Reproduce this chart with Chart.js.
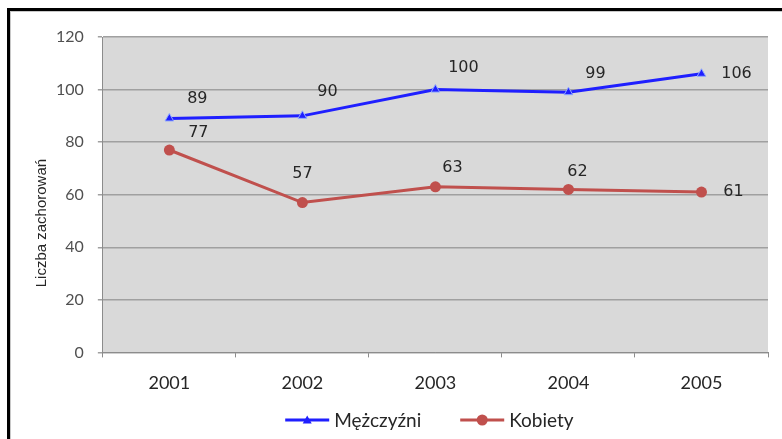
<!DOCTYPE html>
<html>
<head>
<meta charset="utf-8">
<script src="https://cdn.jsdelivr.net/npm/chart.js@4"></script>
<style>
  html, body { margin: 0; padding: 0; background: #fff; overflow: hidden; }
  #wrap { position: relative; width: 782px; height: 439px; }
  #frame { position: absolute; left: 7px; top: 8px; width: 800px; height: 450px;
           border-left: 3px solid #000; border-top: 3px solid #000; }
  #frame::after { content: ""; position: absolute; left: 0; top: 0; width: 100%; height: 100%;
           border-left: 1px solid #c8c8c8; border-top: 1px solid #c8c8c8; }
  canvas { position: absolute; left: 0; top: 0; }
</style>
</head>
<body>
<div id="wrap">
  <div id="frame"></div>
  <canvas id="wykres" width="782" height="439"></canvas>
</div>
<script>
// dane z wykresu
const lata = ["2001", "2002", "2003", "2004", "2005"];
const mezczyzni = [89, 90, 100, 99, 106];
const kobiety = [77, 57, 63, 62, 61];
const tytulOsiY = "Liczba zachorowań";

const NIEBIESKI = '#1f1fff';
const CZERWONY = '#c0504d';
const CZCIONKA = 'Lato, "Open Sans", sans-serif';

// przesunięcia etykiet wartości względem punktu (px)
const przesuniecia = [
  [[28, -20], [25, -24], [28, -22], [27, -18], [35, 0]],
  [[29, -17], [0, -29], [17, -19], [9, -18], [32, 0]]
];

// linia + znacznik (legenda)
function rysujIkonke(g, x, y, kolor, ksztalt) {
  g.strokeStyle = kolor; g.lineWidth = 3;
  g.beginPath(); g.moveTo(x, y); g.lineTo(x + 44, y); g.stroke();
  g.fillStyle = kolor;
  g.beginPath();
  if (ksztalt === 'triangle') {
    g.moveTo(x + 22, y - 4.5); g.lineTo(x + 26.5, y + 3.5); g.lineTo(x + 17.5, y + 3.5); g.closePath();
  } else {
    g.arc(x + 22, y, 5.5, 0, Math.PI * 2);
  }
  g.fill();
}

const dodatki = {
  id: 'dodatki',
  beforeDraw(chart) {
    const a = chart.chartArea, ctx = chart.ctx;
    ctx.save();
    ctx.fillStyle = '#d9d9d9';
    ctx.fillRect(a.left, a.top, a.right - a.left, a.bottom - a.top);
    ctx.restore();
  },
  afterDatasetsDraw(chart) {
    const ctx = chart.ctx;
    const a = chart.chartArea;
    ctx.save();
    ctx.font = '16px "DejaVu Sans", sans-serif';
    ctx.fillStyle = '#262626';
    ctx.textAlign = 'center';
    ctx.textBaseline = 'middle';
    chart.data.datasets.forEach((ds, i) => {
      chart.getDatasetMeta(i).data.forEach((p, j) => {
        const o = przesuniecia[i][j];
        ctx.fillText(String(ds.data[j]), p.x + o[0], p.y + o[1]);
      });
    });
    ctx.restore();

    // tytuł osi Y
    ctx.save();
    ctx.translate(42, a.top + (a.bottom - a.top) * 0.59);
    ctx.rotate(-Math.PI / 2);
    ctx.font = '15px "Liberation Sans Narrow", "Liberation Sans", sans-serif';
    ctx.fillStyle = '#262626';
    ctx.textAlign = 'center';
    ctx.textBaseline = 'middle';
    ctx.fillText(tytulOsiY, 0, 0);
    ctx.restore();

    // legenda
    ctx.save();
    ctx.font = '19px ' + CZCIONKA;
    ctx.fillStyle = '#262626';
    ctx.textBaseline = 'middle';
    const y = 420;
    const elementy = chart.data.datasets.map(ds => ({
      ds, szer: 44 + 5 + ctx.measureText(ds.label).width
    }));
    const odstep = 39;
    const calosc = elementy.reduce((s, e) => s + e.szer, 0) + odstep * (elementy.length - 1);
    let x = (a.left + a.right) / 2 - calosc / 2 - 6;
    elementy.forEach(e => {
      rysujIkonke(ctx, x, y, e.ds.borderColor, e.ds.pointStyle);
      ctx.fillStyle = '#262626';
      ctx.fillText(e.ds.label, x + 49, y + 1);
      x += e.szer + odstep;
    });
    ctx.restore();
  }
};

const ctx = document.getElementById('wykres');

const config = {
  type: 'line',
  data: {
    labels: lata,
    datasets: [
      {
        label: 'Mężczyźni',
        data: mezczyzni,
        borderColor: NIEBIESKI,
        backgroundColor: NIEBIESKI,
        borderWidth: 3,
        pointStyle: 'triangle',
        pointRadius: 5,
        pointBorderColor: '#8fa8ff',
        pointBorderWidth: 1,
        tension: 0
      },
      {
        label: 'Kobiety',
        data: kobiety,
        borderColor: CZERWONY,
        backgroundColor: CZERWONY,
        borderWidth: 3,
        pointStyle: 'circle',
        pointRadius: 5.5,
        pointBorderWidth: 0,
        tension: 0
      }
    ]
  },
  options: {
    responsive: false,
    animation: false,
    layout: { padding: { left: 42, right: 14, top: 37, bottom: 30 } },
    plugins: {
      tooltip: { enabled: false },
      legend: { display: false }
    },
    scales: {
      x: {
        offset: true,
        grid: {
          offset: true,
          drawOnChartArea: false,
          drawTicks: true,
          tickLength: 5,
          color: '#8c8c8c'
        },
        border: { color: '#8c8c8c', width: 1 },
        ticks: {
          color: '#262626',
          padding: 15,
          font: { family: CZCIONKA, size: 18 }
        }
      },
      y: {
        min: 0,
        max: 120,
        grid: {
          color: '#a0a0a0',
          lineWidth: 1.5,
          tickLength: 5
        },
        border: { color: '#8c8c8c', width: 1 },
        ticks: {
          stepSize: 20,
          color: '#505050',
          padding: 14,
          font: { family: CZCIONKA, size: 16 }
        }
      }
    }
  },
  plugins: [dodatki]
};

const mojWykres = new Chart(ctx, config);
</script>
</body>
</html>
